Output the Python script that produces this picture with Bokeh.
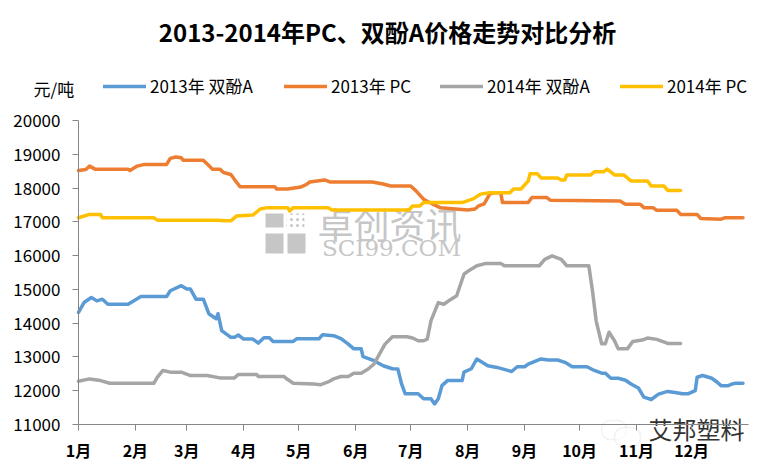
from bokeh.plotting import figure
from bokeh.models import Range1d, FixedTicker, Label, Legend, LegendItem, BoxAnnotation
from bokeh.embed import file_html
from bokeh.resources import INLINE

# ---------------- data ----------------
months = ["1月", "2月", "3月", "4月", "5月", "6月", "7月", "8月", "9月", "10月", "11月", "12月"]
month_start_days = [0, 31, 59, 90, 120, 151, 181, 212, 243, 273, 304, 334]
y_ticks = [11000, 12000, 13000, 14000, 15000, 16000, 17000, 18000, 19000, 20000]

series_names = ["2013年 双酚A", "2013年 PC", "2014年 双酚A", "2014年 PC"]

bpa2013_day = [0, 3, 7, 10, 13, 16, 27, 34, 48, 50, 56, 59, 61, 64, 68, 71, 75, 76, 78, 83,
               85, 87, 90, 95, 98, 101, 104, 106, 117, 119, 131, 133, 139, 143, 147, 150, 154, 155, 161, 166,
               171, 174, 176, 178, 185, 188, 192, 194, 196, 198, 201, 209, 210, 214, 217, 223, 228, 236, 239, 243,
               245, 252, 256, 261, 265, 269, 277, 281, 285, 287, 290, 294, 298, 301, 305, 308, 312, 316, 321, 325,
               329, 332, 336, 337, 340, 345, 348, 350, 354, 356, 358, 362]
bpa2013_val = [14320, 14610, 14760, 14660, 14710, 14560, 14560, 14790, 14790, 14960, 15110, 15010, 15010, 14710, 14710, 14280, 14130, 14280, 13780, 13580,
               13580, 13650, 13530, 13530, 13410, 13570, 13570, 13460, 13460, 13540, 13540, 13660, 13630, 13540, 13380, 13240, 13240, 13010, 12890, 12740,
               12650, 12640, 12200, 11910, 11910, 11760, 11760, 11610, 11760, 12150, 12300, 12300, 12550, 12650, 12940, 12740, 12690, 12570, 12710, 12710,
               12790, 12940, 12910, 12910, 12840, 12710, 12710, 12600, 12520, 12520, 12370, 12370, 12310, 12200, 12080, 11810, 11740, 11900, 11980, 11950,
               11910, 11910, 12000, 12400, 12450, 12370, 12250, 12150, 12150, 12200, 12220, 12220]

pc2013_day = [0, 4, 6, 9, 27, 28, 32, 36, 48, 50, 53, 56, 57, 68, 70, 73, 77, 79, 83, 86,
              88, 107, 108, 114, 121, 124, 126, 134, 137, 160, 166, 170, 181, 184, 188, 192, 197, 212, 216, 218,
              221, 224, 226, 230, 231, 245, 247, 255, 257, 295, 298, 306, 308, 313, 315, 326, 328, 337, 339, 350,
              352, 362]
pc2013_val = [18520, 18550, 18650, 18560, 18560, 18520, 18650, 18700, 18700, 18880, 18920, 18900, 18820, 18820, 18720, 18560, 18560, 18460, 18400, 18180,
              18040, 18040, 17970, 17970, 18030, 18100, 18180, 18240, 18180, 18180, 18120, 18060, 18060, 17910, 17670, 17550, 17420, 17350, 17380, 17470,
              17530, 17820, 17860, 17860, 17570, 17570, 17720, 17720, 17640, 17620, 17520, 17520, 17420, 17420, 17340, 17340, 17220, 17220, 17100, 17080,
              17120, 17120]

bpa2014_day = [0, 6, 12, 17, 41, 43, 46, 50, 56, 61, 70, 77, 85, 87, 97, 98, 112, 114, 117, 128,
               132, 136, 139, 143, 147, 150, 154, 158, 161, 164, 167, 171, 179, 182, 185, 188, 190, 192, 196, 199,
               203, 206, 210, 213, 217, 222, 230, 232, 251, 254, 258, 263, 266, 278, 280, 282, 285, 287, 289, 292,
               294, 299, 302, 307, 310, 315, 321, 328]
bpa2014_val = [12280, 12350, 12300, 12220, 12220, 12400, 12600, 12550, 12550, 12450, 12450, 12380, 12380, 12480, 12480, 12420, 12420, 12330, 12220, 12200,
               12180, 12260, 12350, 12420, 12420, 12520, 12520, 12650, 12790, 13090, 13380, 13600, 13600, 13560, 13480, 13480, 13530, 14070, 14610, 14560,
               14710, 14810, 15450, 15570, 15700, 15770, 15770, 15700, 15700, 15890, 15990, 15890, 15700, 15700, 14960, 14070, 13390, 13390, 13730, 13480,
               13240, 13240, 13460, 13500, 13560, 13520, 13400, 13400]

pc2014_day = [0, 6, 12, 13, 41, 43, 76, 80, 83, 86, 95, 99, 103, 114, 115, 117, 136, 138, 180, 182,
              186, 188, 209, 215, 219, 224, 235, 237, 241, 245, 246, 250, 252, 261, 263, 265, 266, 279, 281, 286,
              288, 292, 297, 301, 310, 312, 319, 321, 328]
pc2014_val = [17120, 17220, 17220, 17120, 17120, 17050, 17050, 17030, 17030, 17170, 17200, 17380, 17420, 17420, 17320, 17420, 17420, 17350, 17350, 17470,
              17470, 17570, 17570, 17680, 17820, 17860, 17860, 17970, 17970, 18210, 18420, 18420, 18300, 18300, 18240, 18240, 18390, 18390, 18480, 18480,
              18560, 18390, 18390, 18210, 18210, 18060, 18060, 17930, 17930]

# ---------------- geometry / style ----------------
colors = ["#5B9BD5", "#ED7D31", "#A5A5A5", "#FFC000"]
CJK = "Noto Sans CJK SC"
W, H = 768, 472
# plotting area of the chart, in canvas pixels
PL, PR, PT, PB = 78, 748, 120, 424
X0, X1 = 0, 365          # days of year shown between PL and PR
Y0, Y1 = 11000, 20000    # price shown between PB and PT
KX = (X1 - X0) / (PR - PL)
KY = (Y1 - Y0) / (PB - PT)


def X(px):
    return X0 + (px - PL) * KX


def Y(py):
    return Y0 + (PB - py) * KY


# the frame covers the whole canvas; axes are fixed inside it
p = figure(width=W, height=H, output_backend="svg", toolbar_location=None, title=None,
           x_range=Range1d(X(0), X(W)), y_range=Range1d(Y(H), Y(0)),
           min_border_left=0, min_border_right=0, min_border_top=0, min_border_bottom=0)
p.outline_line_color = None
p.xgrid.visible = False
p.ygrid.visible = False
p.background_fill_color = "white"
p.border_fill_color = "white"

axis_color = "#868686"
for ax in (p.xaxis[0], p.yaxis[0]):
    ax.axis_line_color = axis_color
    ax.major_tick_line_color = axis_color
    ax.minor_tick_line_color = None
    ax.major_tick_out = 6
    ax.major_tick_in = 0
    ax.major_label_text_color = "black"
    ax.major_label_text_font = CJK

yax = p.yaxis[0]
yax.fixed_location = X0
yax.bounds = (Y0, Y1)
yax.ticker = FixedTicker(ticks=y_ticks)
yax.major_label_text_font_size = "17px"
yax.major_label_standoff = 12

xax = p.xaxis[0]
xax.fixed_location = Y0
xax.bounds = (X0, X1)
xax.ticker = FixedTicker(ticks=month_start_days)
xax.major_label_overrides = {d: m for d, m in zip(month_start_days, months)}
xax.major_label_text_font_size = "16px"
xax.major_label_text_font_style = "bold"
xax.major_label_standoff = 7

# ---------------- watermarks (under the lines) ----------------
wm = "#c6c6c6"
for (l, r, t, b) in [(265, 283, 213, 227), (265, 283, 233, 253), (287, 305, 233, 253)]:
    p.add_layout(BoxAnnotation(left=X(l), right=X(r), top=Y(t), bottom=Y(b),
                               fill_color=wm, fill_alpha=1, line_color=None, level="underlay"))
p.add_layout(BoxAnnotation(left=X(286), right=X(304), top=Y(213), bottom=Y(227),
                           fill_alpha=0, line_color=None, hatch_pattern="dot", hatch_color=wm,
                           hatch_scale=6, hatch_weight=2, level="underlay"))
p.add_layout(Label(x=X(389), y=Y(222), text="卓创资讯", text_align="center", text_baseline="middle",
                   text_font=CJK, text_font_size="36px", text_color=wm, level="underlay"))
p.add_layout(Label(x=X(391), y=Y(247), text="SCI99.COM", text_align="center", text_baseline="middle",
                   text_font="DejaVu Serif", text_font_size="23px", text_color=wm, level="underlay"))
# faint chat-bubble icon and account name, bottom right
for (l, r, t, b) in [(601, 626, 420, 439), (614, 640, 427, 446)]:
    p.add_layout(BoxAnnotation(left=X(l), right=X(r), top=Y(t), bottom=Y(b), border_radius=9,
                               fill_color="white", fill_alpha=0.6, line_color="#d4d4d4",
                               line_width=1.5, level="underlay"))
p.add_layout(Label(x=X(696), y=Y(428), text="艾邦塑料", text_align="center", text_baseline="middle",
                   text_font=CJK, text_font_size="24px", text_color="#333333", level="underlay"))

# ---------------- series ----------------
days = [bpa2013_day, pc2013_day, bpa2014_day, pc2014_day]
vals = [bpa2013_val, pc2013_val, bpa2014_val, pc2014_val]
renderers = []
for d, v, c in zip(days, vals, colors):
    renderers.append(p.line(d, v, line_color=c, line_width=3.5, line_join="round", line_cap="round"))

# ---------------- legend row ----------------
leg_x = [103, 284, 440, 620]
for name, r, lx in zip(series_names, renderers, leg_x):
    leg = Legend(items=[LegendItem(label=name, renderers=[r])],
                 location=(lx, H - 98),
                 orientation="horizontal", padding=0, margin=0, spacing=0,
                 glyph_width=43, glyph_height=20, label_height=20, label_standoff=4,
                 label_text_font=CJK, label_text_font_size="17px", label_text_color="black",
                 border_line_color=None, background_fill_alpha=0)
    p.add_layout(leg, "center")

# ---------------- texts ----------------
p.add_layout(Label(x=X(387), y=Y(31), text="2013-2014年PC、双酚A价格走势对比分析",
                   text_align="center", text_baseline="middle", text_font=CJK,
                   text_font_size="24px", text_font_style="bold", text_color="black"))
p.add_layout(Label(x=X(33), y=Y(88), text="元/吨", text_align="left", text_baseline="middle",
                   text_font=CJK, text_font_size="17px", text_color="black"))

open("out.html", "w").write(file_html(p, INLINE))
